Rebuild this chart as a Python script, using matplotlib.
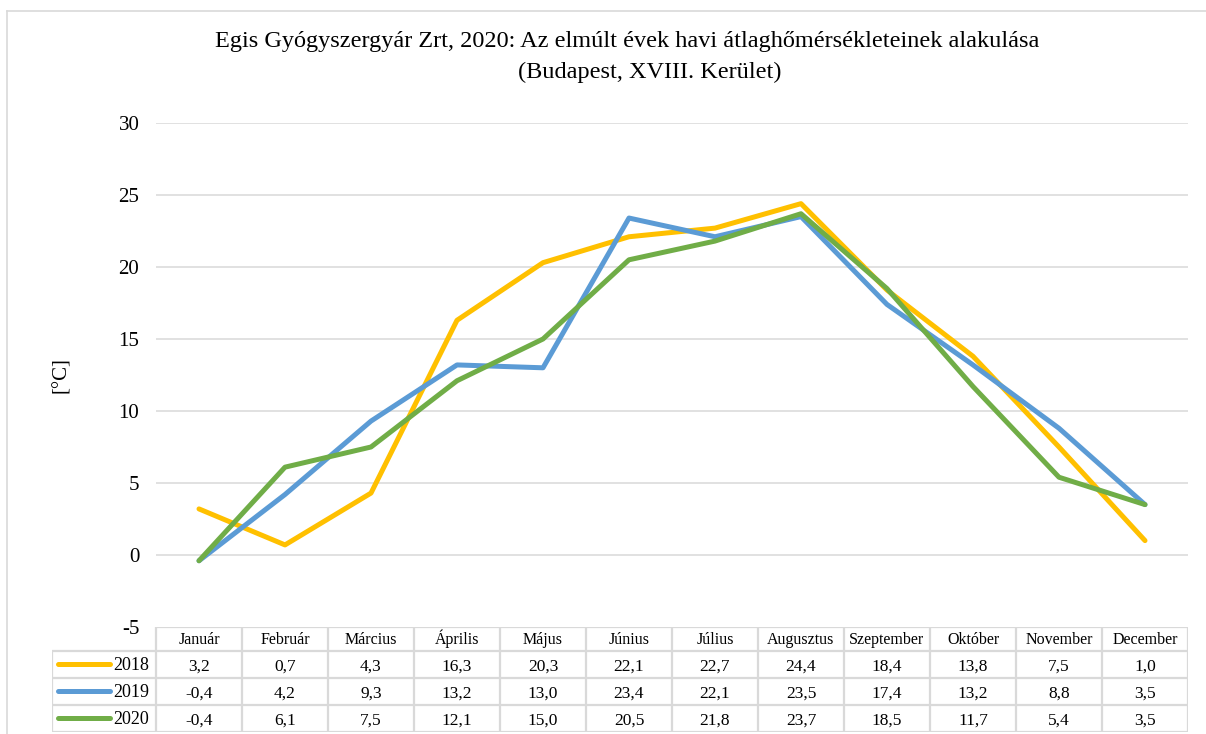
import numpy as np
import matplotlib.pyplot as plt
from matplotlib.lines import Line2D

plt.rcParams['font.family'] = ['Liberation Serif', 'DejaVu Serif']
plt.rcParams['axes.unicode_minus'] = False

# data
months = ['Január', 'Február', 'Március', 'Április', 'Május', 'Június',
          'Július', 'Augusztus', 'Szeptember', 'Október', 'November', 'December']
years = ['2018', '2019', '2020']
t2018 = [3.2, 0.7, 4.3, 16.3, 20.3, 22.1, 22.7, 24.4, 18.4, 13.8, 7.5, 1.0]
t2019 = [-0.4, 4.2, 9.3, 13.2, 13.0, 23.4, 22.1, 23.5, 17.4, 13.2, 8.8, 3.5]
t2020 = [-0.4, 6.1, 7.5, 12.1, 15.0, 20.5, 21.8, 23.7, 18.5, 11.7, 5.4, 3.5]
series = [t2018, t2019, t2020]
colors = ['#FFC000', '#5B9BD5', '#70AD47']

W, H = 1206, 734
fig = plt.figure(figsize=(W / 100, H / 100), dpi=100)


def px_box(x0, y0, x1, y1):
    # pixel box (top-left origin) -> figure fraction rect
    return [x0 / W, 1 - y1 / H, (x1 - x0) / W, (y1 - y0) / H]


# outer chart frame (right/bottom fall off the picture)
grey = '#d9d9d9'
fig.add_artist(Line2D([7 / W, 7 / W], [0, 1 - 11 / H], transform=fig.transFigure, color=grey, lw=1.2))
fig.add_artist(Line2D([7 / W, 1], [1 - 11 / H, 1 - 11 / H], transform=fig.transFigure, color=grey, lw=1.2))

# main plot
ax = fig.add_axes(px_box(156, 123, 1188, 627))
x = np.arange(len(months))
for vals, c in zip(series, colors):
    ax.plot(x, vals, color=c, lw=3.6, solid_joinstyle='round', solid_capstyle='round', zorder=3)
ax.set_xlim(-0.5, len(months) - 0.5)
ax.set_ylim(-5, 30)
ax.set_yticks(np.arange(-5, 31, 5))
ax.set_xticks([])
ax.tick_params(axis='y', length=0, pad=12, labelsize=15)
for v in range(0, 31, 5):
    ax.axhline(v, color=grey, lw=1.1, zorder=1)
for s in ax.spines.values():
    s.set_visible(False)
ax.set_ylabel('[°C]', fontsize=15, labelpad=34)

# data table below the plot (y in pixel rows of the picture)
tb = fig.add_axes(px_box(52, 627, 1188, 732))
lab_w = (156 - 52) / 86.0
tb.set_xlim(-0.5 - lab_w, len(months) - 0.5)
tb.set_ylim(732, 627)
tb.axis('off')
rows = [627, 651, 678, 705, 732]
kw = dict(color=grey, lw=1.6, solid_capstyle='butt')
tb.plot([-0.5, len(months) - 0.5], [rows[0], rows[0]], **kw)
for r in rows[1:]:
    tb.plot([-0.5 - lab_w, len(months) - 0.5], [r, r], **kw)
tb.plot([-0.5 - lab_w, -0.5 - lab_w], [rows[1], rows[-1]], **kw)
for i in range(len(months) + 1):
    tb.plot([i - 0.5, i - 0.5], [rows[0], rows[-1]], **kw)
for i, m in enumerate(months):
    tb.text(i, (rows[0] + rows[1]) / 2 + 5.5, m, ha='center', va='baseline', fontsize=11.5)
for k, (yr, vals, c) in enumerate(zip(years, series, colors), start=1):
    yc = (rows[k] + rows[k + 1]) / 2
    tb.plot([-0.5 - lab_w + 0.07, -0.5 - lab_w + 0.68], [yc, yc],
            color=c, lw=3.6, solid_capstyle='round')
    tb.text(-0.58, yc + 6, yr, ha='right', va='baseline', fontsize=13)
    for i, v in enumerate(vals):
        tb.text(i, yc + 6, f'{v:.1f}'.replace('.', ','), ha='center', va='baseline', fontsize=12.5)

# title
fig.text(627 / W, 1 - 42 / H, 'Egis Gyógyszergyár Zrt, 2020: Az elmúlt évek havi átlaghőmérsékleteinek alakulása',
         ha='center', va='center', fontsize=17.5)
fig.text(650 / W, 1 - 72 / H, '(Budapest, XVIII. Kerület)', ha='center', va='center', fontsize=17.5)

fig.savefig('out.png', dpi=100)
